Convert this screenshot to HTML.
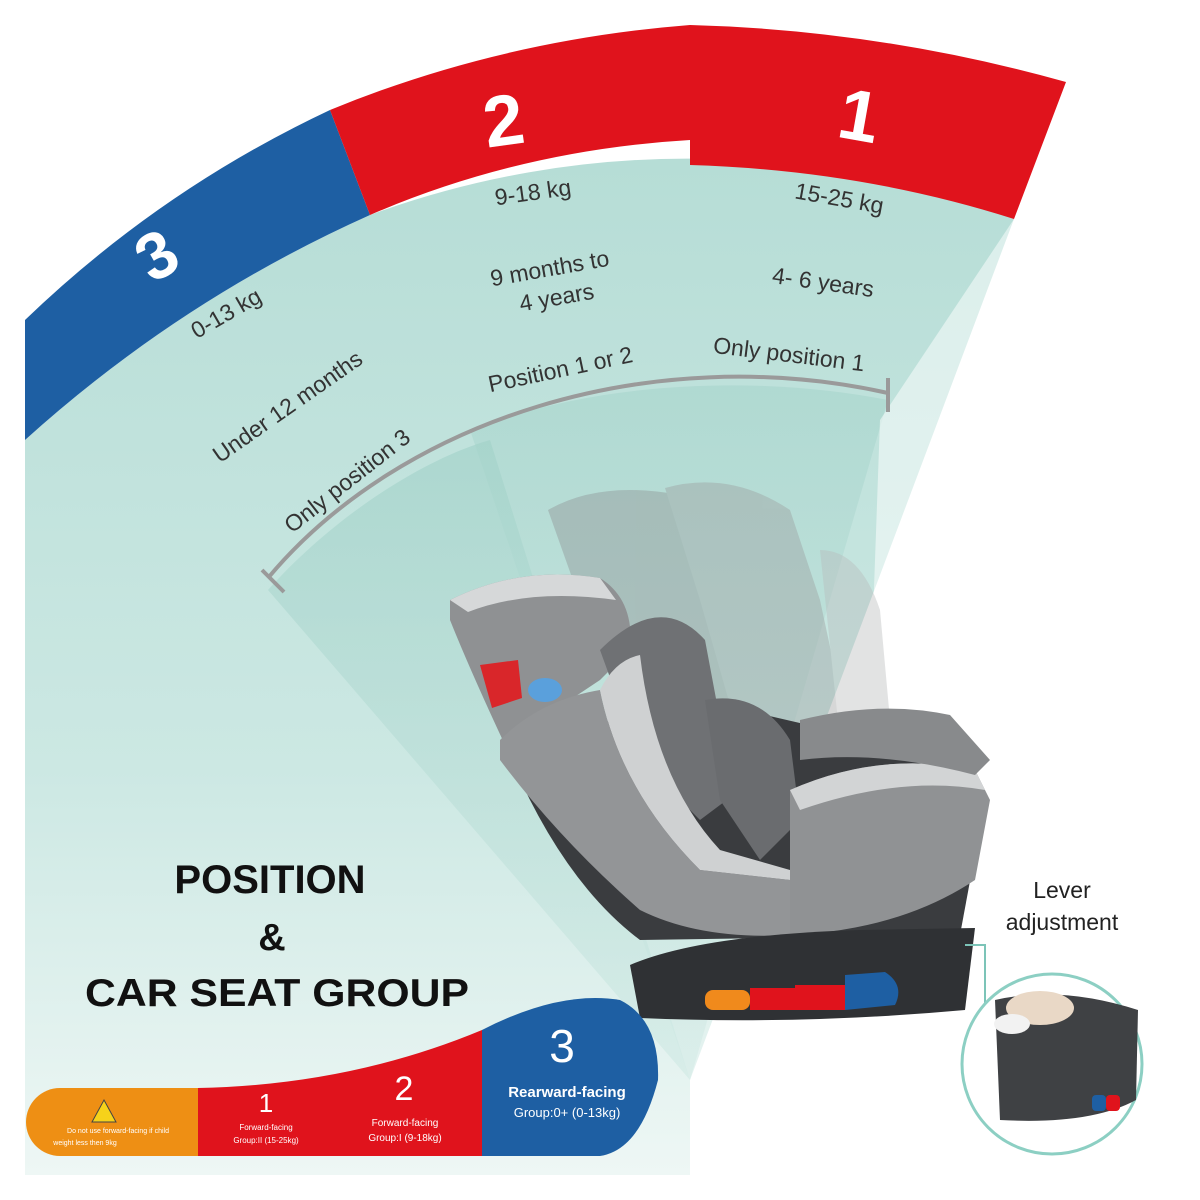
<!DOCTYPE html>
<html><head><meta charset="utf-8"><style>
html,body{margin:0;padding:0;background:#fff;}
svg{display:block;}
text{font-family:"Liberation Sans",sans-serif;}
</style></head><body>
<svg width="1200" height="1200" viewBox="0 0 1200 1200" xmlns="http://www.w3.org/2000/svg">
<defs>
<linearGradient id="tg" x1="0" y1="0" x2="0" y2="1">
<stop offset="0" stop-color="#b6ddd6"/><stop offset="0.6" stop-color="#cce8e3"/><stop offset="1" stop-color="#eef7f5"/>
</linearGradient>
<linearGradient id="tg2" x1="0" y1="0" x2="0" y2="1">
<stop offset="0" stop-color="#9fd0c7"/><stop offset="1" stop-color="#cfe9e4"/>
</linearGradient>
<clipPath id="cl"><rect x="25" y="0" width="1175" height="1200"/></clipPath>
</defs>
<rect width="1200" height="1200" fill="#fff"/>
<g clip-path="url(#cl)">
<path d="M25,440 L25,1175 L690,1175 L690,1080 L1014,219 A918,918 0 0 0 370,215 Q180,300 25,440 Z" fill="url(#tg)"/>
<path d="M268,590 C330,520 420,460 490,440 L690,1080 Z" fill="url(#tg2)" opacity="0.6"/>
<path d="M470,430 C600,380 760,375 888,400 L690,1080 Z" fill="url(#tg2)" opacity="0.45"/>
<path d="M1014,219 L880,420 L870,700 L940,700 Z" fill="#fff" opacity="0.5"/>
<path d="M25,320 Q160,190 330,110 L370,215 Q180,300 25,440 Z" fill="#1e5fa3"/>
<path d="M330,110 Q500,40 690,25 L690,140 Q520,150 370,215 Z" fill="#e0131c"/>
<path d="M690,25 Q880,30 1066,82 L1014,219 Q860,170 690,165 Z" fill="#e0131c"/>
</g>
<path d="M268,578 C400,420 650,340 888,393" fill="none" stroke="#9a9a9a" stroke-width="4"/>
<line x1="262" y1="570" x2="284" y2="592" stroke="#9a9a9a" stroke-width="4"/>
<line x1="888" y1="378" x2="888" y2="412" stroke="#9a9a9a" stroke-width="4"/>
<text transform="translate(168,275) rotate(-30)" font-size="66" font-weight="bold" fill="#fff" text-anchor="middle">3</text>
<text transform="translate(507,145) rotate(-8)" font-size="72" font-weight="bold" fill="#fff" text-anchor="middle">2</text>
<text transform="translate(855,140) rotate(10)" font-size="72" font-weight="bold" fill="#fff" text-anchor="middle">1</text>
<g fill="#333" font-size="23" text-anchor="middle">
<text transform="translate(230,320) rotate(-30)">0-13 kg</text>
<text transform="translate(292,413) rotate(-35)">Under 12 months</text>
<text transform="translate(352,487) rotate(-38)">Only position 3</text>
<text transform="translate(534,200) rotate(-8)">9-18 kg</text>
<text transform="translate(551,276) rotate(-10)">9 months to</text>
<text transform="translate(558,305) rotate(-10)">4 years</text>
<text transform="translate(562,377) rotate(-12)">Position 1 or 2</text>
<text transform="translate(838,206) rotate(10)">15-25 kg</text>
<text transform="translate(822,290) rotate(8)">4- 6 years</text>
<text transform="translate(788,362) rotate(7)">Only position 1</text>
</g>
<!-- ghost seats -->
<g opacity="0.4">
<path d="M548,510 Q600,480 680,495 L700,520 L760,700 L640,720 L580,600 Z" fill="#8d8f90"/>
<path d="M665,488 Q730,470 790,510 L820,600 L850,740 L740,740 L700,600 Z" fill="#9b9d9e"/>
<path d="M820,550 Q860,550 880,610 L890,720 L840,740 Z" fill="#b8babb"/>
</g>
<!-- main seat -->
<path d="M505,745 Q560,880 640,940 L960,935 L985,800 L960,760 L700,700 Z" fill="#3a3c3f"/>
<path d="M450,600 Q520,565 600,578 Q635,600 630,650 L600,680 L540,720 L505,745 Q470,670 450,620 Z" fill="#8f9193"/>
<path d="M450,600 Q520,565 600,578 L616,600 Q530,588 468,612 Z" fill="#d6d8d9"/>
<path d="M600,650 Q660,590 705,640 L720,720 L740,790 L700,820 L640,760 Z" fill="#6f7174"/>
<path d="M705,700 Q760,690 790,740 L800,820 L760,860 L720,800 Z" fill="#6a6c6f"/>
<path d="M500,740 Q540,700 600,690 Q620,790 700,870 L790,880 L790,935 Q700,940 640,910 Q560,840 500,760 Z" fill="#939597"/>
<path d="M600,690 Q615,660 640,655 Q655,780 720,850 L790,870 L790,880 L700,870 Q620,790 600,690 Z" fill="#cfd1d2"/>
<path d="M790,790 Q880,750 975,770 L990,800 L975,880 Q900,930 790,935 Z" fill="#909294"/>
<path d="M790,790 Q880,750 975,770 L985,790 Q900,775 800,810 Z" fill="#d2d4d5"/>
<path d="M800,720 Q880,700 950,715 L990,760 L975,775 Q880,750 800,760 Z" fill="#888a8c"/>
<path d="M480,665 L518,660 L522,698 L492,708 Z" fill="#d9262a"/>
<ellipse cx="545" cy="690" rx="17" ry="12" fill="#5aa0dc"/>
<!-- base -->
<path d="M630,965 Q700,935 860,930 L975,928 L965,1010 Q800,1025 640,1018 Z" fill="#2f3134"/>
<rect x="705" y="990" width="45" height="20" rx="8" fill="#f08a1c"/>
<rect x="750" y="988" width="45" height="22" fill="#e0131c"/>
<rect x="795" y="985" width="50" height="25" fill="#e0131c"/>
<path d="M845,975 L885,972 Q905,985 895,1005 L845,1010 Z" fill="#1e5fa3"/>
<g fill="#111" font-weight="bold" text-anchor="middle">
<text x="270" y="893" font-size="40">POSITION</text>
<text x="272" y="950" font-size="38">&amp;</text>
<text x="277" y="1006" font-size="39" textLength="384" lengthAdjust="spacingAndGlyphs">CAR SEAT GROUP</text>
</g>
<path d="M60,1088 L200,1088 L200,1156 L60,1156 A34,34 0 0 1 60,1088 Z" fill="#ee8f14"/>
<path d="M198,1088 Q350,1085 482,1030 L484,1156 L198,1156 Z" fill="#e0131c"/>
<path d="M482,1030 Q560,990 620,1000 Q660,1020 658,1080 Q640,1150 600,1156 L482,1156 Z" fill="#1e5fa3"/>
<path d="M104,1100 L116,1122 L92,1122 Z" fill="#f6d21a" stroke="#444" stroke-width="1"/>
<g fill="#fff" text-anchor="middle">
<text x="118" y="1133" font-size="7">Do not use forward-facing if child</text>
<text x="85" y="1145" font-size="7">weight less then 9kg</text>
<text x="266" y="1112" font-size="26">1</text>
<text x="266" y="1130" font-size="8">Forward-facing</text>
<text x="266" y="1143" font-size="8">Group:II (15-25kg)</text>
<text x="404" y="1100" font-size="34">2</text>
<text x="405" y="1126" font-size="10">Forward-facing</text>
<text x="405" y="1141" font-size="10">Group:I (9-18kg)</text>
<text x="562" y="1062" font-size="46">3</text>
<text x="567" y="1097" font-size="15" font-weight="bold">Rearward-facing</text>
<text x="567" y="1117" font-size="13">Group:0+ (0-13kg)</text>
</g>
<text x="1062" y="898" font-size="23" fill="#222" text-anchor="middle">Lever</text>
<text x="1062" y="930" font-size="23" fill="#222" text-anchor="middle">adjustment</text>
<path d="M965,945 L985,945 L985,1072 L1025,1072" fill="none" stroke="#7cc4b8" stroke-width="2"/>
<circle cx="1052" cy="1064" r="90" fill="#fff" stroke="#8ccfc3" stroke-width="3"/>
<path d="M995,1000 Q1060,985 1138,1010 L1136,1100 Q1090,1125 1000,1120 Z" fill="#3f4144"/>
<ellipse cx="1040" cy="1008" rx="34" ry="17" fill="#e9d8c6"/>
<ellipse cx="1012" cy="1024" rx="18" ry="10" fill="#f2f2f2"/>
<rect x="1092" y="1095" width="14" height="16" rx="4" fill="#1e5fa3"/>
<rect x="1106" y="1095" width="14" height="16" rx="4" fill="#e0131c"/>
</svg>
</body></html>
